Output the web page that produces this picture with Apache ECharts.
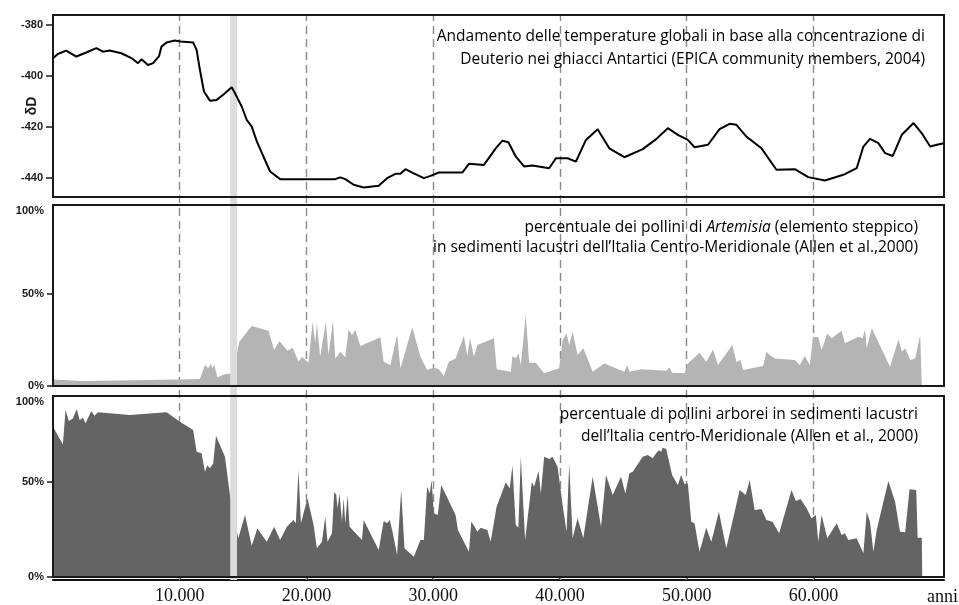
<!DOCTYPE html>
<html>
<head>
<meta charset="utf-8">
<script src="https://cdn.jsdelivr.net/npm/echarts@6/dist/echarts.min.js"></script>
<style>
  html, body { margin: 0; padding: 0; background: #ffffff; }
  #chart { width: 959px; height: 605px; }
</style>
</head>
<body>
<div id="chart"></div>
<script>
// Time axis (years before present)
const X_MAX = 70300;
const epochTicks = [10000, 20000, 30000, 40000, 50000, 60000];
const bandRange = [13980, 14520];

// Panel 1: deuterium (δD, ‰) from the EPICA ice core
const dDYears = [0, 380, 1040, 1840, 2630, 3420, 3940, 4470, 5390, 6190, 6710, 6980, 7500, 7900, 8370, 8560, 8960, 9610, 10060, 11060,
  11330, 11590, 11910, 12380, 12910, 13430, 14100, 14360, 14890, 15280, 15680, 16080, 16600, 17130, 17920, 22270, 22670, 23060, 23720, 24510,
  25700, 26360, 27020, 27410, 27810, 28340, 29260, 29790, 30440, 32290, 32820, 34000, 34930, 35460, 35930, 36510, 37170, 37830, 39150, 39680,
  40600, 41260, 42050, 42970, 43890, 45080, 46530, 47590, 48510, 49300, 50090, 50620, 51680, 52590, 53390, 53920, 54710, 55900, 57080, 58530,
  59590, 60900, 62360, 63410, 63940, 64460, 65130, 65650, 66260, 66970, 67900, 68550, 69210, 69740, 70300];
const dDValues = [-393.1, -391.4, -390.1, -392.4, -390.8, -389.1, -390.5, -390.0, -391.1, -393.0, -395.0, -393.5, -395.7, -395.0, -392.2, -388.5, -386.9, -386.1, -386.5, -386.9,
  -389.8, -397.6, -406.1, -409.7, -409.4, -407.4, -404.4, -406.8, -412.0, -417.2, -419.9, -425.7, -431.6, -437.5, -440.5, -440.5, -439.8, -440.5, -442.7, -443.8,
  -443.1, -440.1, -438.4, -438.4, -436.6, -437.9, -440.1, -439.2, -437.9, -437.9, -434.5, -434.9, -428.4, -425.4, -426.0, -431.6, -435.5, -435.1, -436.2, -432.3,
  -432.3, -433.6, -425.1, -420.9, -428.4, -431.9, -428.7, -424.8, -420.5, -423.1, -425.1, -428.0, -427.0, -420.9, -418.8, -419.2, -423.8, -428.4, -436.8, -436.6,
  -439.7, -441.0, -438.8, -436.2, -427.7, -424.7, -426.4, -430.3, -431.4, -423.1, -418.5, -422.5, -427.7, -427.0, -426.4];

// Panel 2: Artemisia pollen (%)
const artYears = [0, 2360, 10000, 11590, 11990, 12250, 12440, 12600, 12720, 12960, 13570, 14180, 14700, 15680, 17000, 17450, 17870, 18500, 18920, 19370,
  19640, 20160, 20480, 20690, 20820, 21080, 21530, 21740, 22090, 22270, 22670, 23060, 23320, 23590, 23850, 24250, 25830, 26090, 26620, 27150,
  27410, 27680, 28340, 28990, 29520, 30050, 30440, 30840, 31230, 31760, 32420, 32690, 32900, 33210, 33480, 34790, 35010, 36120, 36250, 36510,
  36720, 36910, 37300, 37570, 38090, 38750, 39940, 40210, 40520, 40730, 41000, 41390, 41840, 42580, 43500, 45080, 45290, 45480, 46400, 48380,
  48640, 48850, 49830, 50090, 51010, 51540, 52070, 52470, 53600, 53920, 54230, 54450, 56030, 56290, 56550, 56950, 58530, 58920, 59320, 59710,
  59980, 60380, 60640, 61090, 61430, 62220, 62480, 63540, 63880, 64070, 64200, 64600, 66040, 66710, 66970, 67240, 67630, 68030, 68420, 68550];
const artValues = [3.6, 2.7, 3.6, 3.8, 11.4, 9.6, 12.3, 9.6, 11.8, 4.7, 6.4, 6.9, 24.1, 32.6, 30.1, 19.6, 24.5, 19.2, 20.8, 13.2,
  15.9, 12.7, 34.9, 23.2, 34.1, 15.9, 34.9, 16.8, 35.5, 15.0, 18.6, 15.6, 30.8, 27.7, 30.4, 21.7, 26.5, 13.2, 11.4, 27.7,
  9.6, 15.9, 31.9, 15.9, 8.7, 10.1, 9.1, 5.4, 13.2, 15.0, 27.2, 16.3, 25.9, 15.9, 22.3, 25.9, 9.1, 7.8, 16.3, 15.0,
  17.8, 11.4, 38.6, 12.7, 12.7, 6.9, 9.6, 25.0, 28.6, 22.3, 29.5, 16.8, 20.5, 7.8, 12.3, 7.8, 11.4, 7.8, 9.1, 8.3,
  10.1, 7.2, 6.9, 12.3, 18.1, 13.2, 19.9, 11.4, 22.3, 13.2, 14.1, 8.7, 10.9, 18.6, 16.8, 15.0, 14.1, 11.4, 16.3, 11.4,
  26.8, 26.5, 19.6, 28.6, 25.9, 30.1, 23.2, 26.8, 25.9, 30.8, 20.5, 31.4, 10.5, 25.4, 18.6, 20.5, 14.1, 15.0, 27.7, 0];

// Panel 3: arboreal pollen (%)
const apYears = [0, 780, 990, 1250, 1570, 1880, 2100, 2360, 2570, 3020, 3280, 3540, 6050, 8960, 9350, 10010, 11060, 11330, 11720, 11990,
  12170, 12380, 12640, 12860, 13170, 13570, 13960, 14620, 15150, 15680, 16120, 16870, 17450, 17920, 18450, 18970, 19160, 19370, 19560, 20080,
  20560, 20820, 21220, 21480, 21660, 22010, 22190, 22350, 22450, 22610, 22800, 22930, 23060, 23240, 23400, 24380, 24510, 25700, 26090, 26360,
  26570, 26760, 27150, 27470, 27730, 28470, 28990, 29260, 29520, 29730, 29870, 30050, 30360, 30630, 31760, 31950, 32820, 33000, 33270, 33480,
  33740, 34270, 34530, 35000, 35720, 36040, 36250, 36510, 36720, 36910, 37250, 37780, 37960, 38310, 38490, 38750, 39150, 39410, 39810, 40210,
  40520, 40730, 41000, 41390, 41840, 42580, 43240, 43630, 44160, 44820, 45160, 45480, 45740, 46530, 46930, 47320, 47590, 47800, 47980, 48110,
  48380, 48510, 48850, 49300, 49560, 49830, 50090, 50360, 50620, 51010, 51540, 51940, 52540, 53120, 54180, 54650, 54970, 55360, 55900, 56290,
  56770, 57290, 58270, 58610, 58980, 59460, 59850, 60190, 60380, 60640, 61090, 61840, 62220, 62480, 62750, 63410, 63940, 64200, 64460, 64730,
  64990, 65910, 66440, 66830, 67240, 67580, 68110, 68220, 68550, 68580];
const apValues = [79.1, 69.8, 87.9, 82.1, 83.5, 88.4, 82.6, 83.8, 80.9, 87.4, 84.9, 86.7, 85.3, 86.7, 84.9, 81.7, 77.4, 65.9, 65.1, 55.4,
  58.9, 57.2, 59.8, 74.4, 69.5, 63.3, 43.2, 20.4, 32.6, 16.5, 25.6, 18.6, 26.5, 19.5, 26.5, 30.0, 28.3, 56.3, 28.3, 41.4,
  27.4, 15.1, 18.6, 31.7, 18.6, 23.0, 44.9, 43.2, 36.2, 44.0, 29.1, 41.4, 28.3, 43.2, 26.5, 19.5, 30.0, 14.2, 29.5, 28.3,
  30.0, 24.7, 11.6, 45.8, 15.1, 10.7, 19.5, 19.5, 47.5, 44.0, 51.1, 33.5, 32.6, 48.4, 32.6, 24.7, 13.3, 29.1, 26.5, 23.8,
  25.9, 24.7, 18.6, 37.0, 49.8, 46.7, 58.9, 27.4, 25.9, 63.3, 19.5, 50.2, 47.5, 55.8, 44.0, 63.3, 62.1, 63.3, 58.0, 37.9,
  23.8, 59.8, 20.4, 30.9, 20.4, 52.8, 26.5, 53.7, 43.2, 52.8, 44.0, 54.6, 55.4, 63.3, 64.2, 62.5, 65.1, 66.8, 65.9, 68.0,
  67.4, 67.7, 53.7, 48.4, 53.7, 48.8, 49.3, 29.1, 28.3, 13.3, 25.9, 18.6, 34.4, 15.1, 45.8, 43.2, 51.1, 35.3, 35.8, 30.0,
  29.1, 23.0, 45.8, 40.0, 41.1, 36.2, 30.9, 32.6, 18.6, 32.6, 20.4, 28.3, 22.1, 23.0, 19.5, 20.4, 12.5, 34.4, 29.1, 13.3,
  24.7, 50.5, 39.6, 23.8, 23.5, 46.2, 45.8, 20.7, 20.7, 0];

// Tick labels
const dDTicks = [-440, -420, -400, -380];
const pctTicks = [0, 50];
const xTickText = ['10.000', '20.000', '30.000', '40.000', '50.000', '60.000'];
const xUnit = 'anni';

// Panel captions
const cap1 = ['Andamento delle temperature globali in base alla concentrazione di',
              'Deuterio nei ghiacci Antartici (EPICA community members, 2004)'];
const cap2a = ['percentuale dei pollini di ', 'Artemisia', ' (elemento steppico)'];
const cap2b = 'in sedimenti lacustri dell\u2019Italia Centro-Meridionale (Allen et al.,2000)';
const cap3 = ['percentuale di pollini arborei in sedimenti lacustri',
              'dell\u2019Italia centro-Meridionale (Allen et al., 2000)'];

const pairs = (xs, ys) => xs.map((x, i) => [x, ys[i]]);

const chart = echarts.init(document.getElementById('chart'), null, { renderer: 'canvas' });

const LEFT = 53, WIDTH = 891;
const frame = { show: true, borderColor: '#1a1a1a', borderWidth: 2, backgroundColor: 'transparent', z: 10 };
const tickFont = { fontFamily: 'Liberation Sans', fontWeight: 'bold', fontSize: 11, color: '#1a1a1a' };
const CAP_SIZE = 15.5;
const capFont = CAP_SIZE + 'px "Open Sans"';
const capColor = '#000';

const hiddenX = (i) => ({ type: 'value', gridIndex: i, min: 0, max: X_MAX, show: false });
const pctAxis = (i, max, topLabelAt) => ({
  type: 'value', gridIndex: i, min: 0, max: max,
  axisLine: { show: false },
  splitLine: { show: false },
  axisTick: { show: true, customValues: pctTicks, length: 6, lineStyle: { color: '#1a1a1a', width: 1.5 } },
  axisLabel: Object.assign({ customValues: pctTicks.concat([topLabelAt]), margin: 9,
    formatter: v => (v > 60 ? '100%' : v + '%') }, tickFont)
});

const capText = (x, y, text) => ({
  type: 'text', x: x, y: y, z: 20,
  style: { text: text, font: capFont, fill: capColor, align: 'right', verticalAlign: 'middle' }
});

const option = {
  animation: false,
  backgroundColor: '#ffffff',
  grid: [
    Object.assign({ left: LEFT, width: WIDTH, top: 15, height: 182 }, frame),
    Object.assign({ left: LEFT, width: WIDTH, top: 205, height: 181 }, frame),
    Object.assign({ left: LEFT, width: WIDTH, top: 396, height: 181 }, frame),
    { left: LEFT, width: WIDTH, top: 15, height: 570, show: false }
  ],
  xAxis: [
    hiddenX(0), hiddenX(1), hiddenX(2),
    {
      type: 'value', gridIndex: 3, min: 0, max: X_MAX,
      axisLine: { show: true, lineStyle: { color: '#111', width: 2 } },
      axisTick: { show: true, customValues: epochTicks, inside: true, length: 5, lineStyle: { color: '#111', width: 1.5 } },
      axisLabel: { customValues: epochTicks, margin: 7, fontFamily: 'Liberation Serif', fontSize: 18, color: '#111',
        formatter: v => xTickText[epochTicks.indexOf(v)] },
      splitLine: { show: false }
    }
  ],
  yAxis: [
    {
      type: 'value', gridIndex: 0, min: -447.5, max: -376.1,
      axisLine: { show: false },
      splitLine: { show: false },
      axisTick: { show: true, customValues: dDTicks, length: 7, lineStyle: { color: '#1a1a1a', width: 1.5 } },
      axisLabel: Object.assign({ customValues: dDTicks, margin: 10 }, tickFont),
      name: '\u03b4D', nameLocation: 'middle', nameRotate: 90, nameGap: 14, nameMoveOverlap: false,
      nameTextStyle: { fontFamily: 'Liberation Sans', fontWeight: 'bold', fontSize: 14, color: '#1a1a1a' }
    },
    pctAxis(1, 98.4, 95),
    pctAxis(2, 95.3, 92),
    { type: 'value', gridIndex: 3, min: 0, max: 1, show: false }
  ],
  series: [
    {
      // dashed millennium guides spanning all panels
      type: 'line', xAxisIndex: 3, yAxisIndex: 3, data: [], silent: true, z: 1,
      markLine: {
        silent: true, symbol: 'none', z: 1, animation: false,
        label: { show: false },
        lineStyle: { color: '#8a8a8a', type: [8, 5], width: 1.4 },
        data: epochTicks.map(v => ({ xAxis: v }))
      }
    },
    {
      type: 'line', xAxisIndex: 1, yAxisIndex: 1, z: 2, data: pairs(artYears, artValues),
      symbol: 'none', lineStyle: { width: 0 }, areaStyle: { color: '#b4b4b4', opacity: 1 }, silent: true
    },
    {
      type: 'line', xAxisIndex: 2, yAxisIndex: 2, z: 2, data: pairs(apYears, apValues),
      symbol: 'none', lineStyle: { width: 0 }, areaStyle: { color: '#646464', opacity: 1 }, silent: true
    },
    {
      // Late-glacial marker band
      type: 'line', xAxisIndex: 3, yAxisIndex: 3, data: [], silent: true,
      markArea: {
        silent: true, z: 3, animation: false,
        itemStyle: { color: '#dcdcdc', opacity: 1 },
        data: [[{ xAxis: bandRange[0] }, { xAxis: bandRange[1] }]]
      }
    },
    {
      type: 'line', xAxisIndex: 0, yAxisIndex: 0, z: 4, data: pairs(dDYears, dDValues),
      symbol: 'none', lineStyle: { color: '#000', width: 2 }, silent: true
    }
  ],
  graphic: [
    capText(925, 37, cap1[0]),
    capText(925, 60, cap1[1]),
    { type: 'text', x: 918, y: 228, z: 20, style: {
        text: '{n|' + cap2a[0] + '}{i|' + cap2a[1] + '}{n|' + cap2a[2] + '}',
        align: 'right', verticalAlign: 'middle',
        rich: {
          n: { fontFamily: 'Open Sans', fontSize: CAP_SIZE, color: capColor },
          i: { fontFamily: 'Open Sans', fontSize: CAP_SIZE, fontStyle: 'italic', color: capColor }
        } } },
    capText(918, 248, cap2b),
    capText(918, 415, cap3[0]),
    capText(918, 437, cap3[1]),
    { type: 'text', x: 927, y: 597, z: 20, style: { text: xUnit, font: '18px "Liberation Serif"', fill: '#111', align: 'left', verticalAlign: 'middle' } }
  ]
};

chart.setOption(option);
</script>
</body>
</html>
